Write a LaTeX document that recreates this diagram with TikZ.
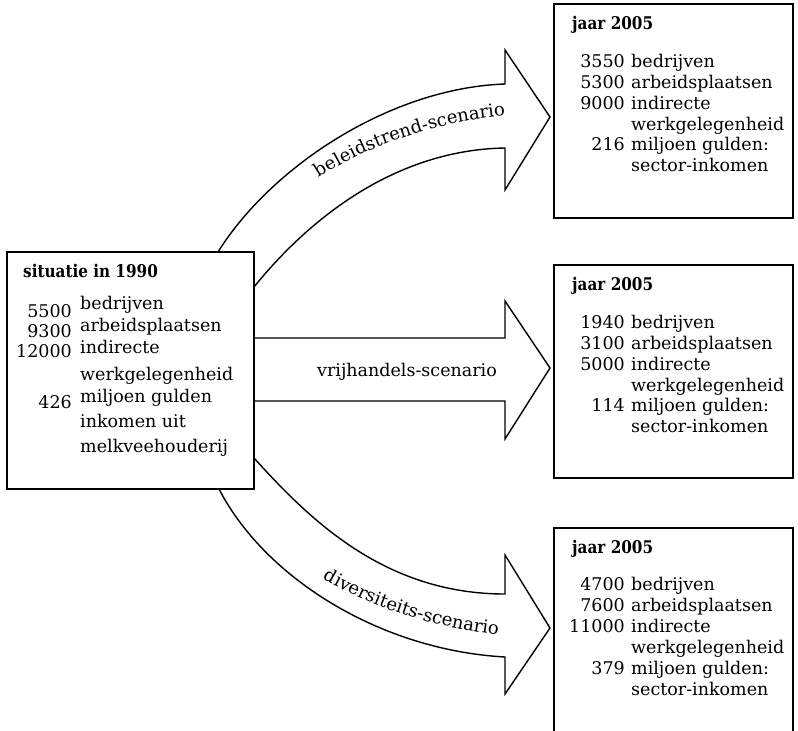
\documentclass[tikz,border=0pt]{standalone}
\usepackage{fontspec}
\setmainfont{DejaVu Serif}
\usepackage{graphicx}
\usetikzlibrary{decorations.text}
\newcommand\hsx[1]{#1}
\newcommand\bsx[1]{\scalebox{0.87}[1]{#1}}
\newcommand\bodyfont{\fontsize{17.5}{20}\selectfont}
\newcommand\curvefont{\fontsize{18}{22}\selectfont}
\tikzset{
  frame/.style={draw, fill=white, line width=1.7pt, inner sep=0pt, rectangle},
  bigarrow/.style={draw, fill=white, line width=1.4pt, line join=miter},
  num/.style={anchor=base east, inner sep=0pt, font=\bodyfont},
  wrd/.style={anchor=base west, inner sep=0pt, font=\bodyfont},
  ttl/.style={anchor=base west, inner sep=0pt, font=\bodyfont\bfseries},
}
\begin{document}
\begin{tikzpicture}[x=1pt,y=1pt]
\useasboundingbox (0,0) rectangle (798,-731);

% ---- big hollow arrows (drawn first, boxes cover their roots)
\draw[bigarrow] (218,-252) .. controls (271,-167) and (390,-88) .. (505,-84)
  -- (505,-50) -- (550,-117) -- (505,-190) -- (505,-148)
  .. controls (390,-150) and (304,-225) .. (254,-287) -- cycle;
\draw[bigarrow] (240,-338) -- (505,-338) -- (505,-301) -- (550,-368)
  -- (505,-439) -- (505,-401) -- (240,-401) -- cycle;
\draw[bigarrow] (254,-458) .. controls (310,-520) and (385,-594) .. (505,-594)
  -- (505,-555) -- (550,-628) -- (505,-694) -- (505,-657)
  .. controls (380,-650) and (265,-578) .. (219,-489) -- cycle;

% ---- arrow labels
\path[decorate, decoration={text along path, text align=center,
  text={|\curvefont|beleidstrend-scenario}}]
  (315,-180) .. controls (360,-150) and (430,-122) .. (510,-115);
\node[anchor=base, inner sep=0pt, font=\bodyfont] (lblmid) at (407,-376) {vrijhandels-scenario};
\path[decorate, decoration={text along path, text align=center,
  text={|\curvefont|diversiteits-scenario}}]
  (315,-574) .. controls (365,-605) and (430,-628) .. (507,-636);

% ---- boxes
\node[frame, minimum width=247pt, minimum height=237pt] (start) at (130.5,-370.5) {};
\node[frame, minimum width=239pt, minimum height=214pt] (top) at (673.5,-111) {};
\node[frame, minimum width=239pt, minimum height=213pt] (mid) at (673.5,-371.5) {};
\node[frame, minimum width=239pt, minimum height=232pt] (bot) at (673.5,-644) {};

% ---- left box text
\node[ttl] (s0) at (23,-277) {\bsx{situatie in 1990}};
\node[num] (s1n) at (72,-317) {5500};
\node[wrd] (s1w) at (80,-309) {bedrijven};
\node[num] (s2n) at (72,-337) {9300};
\node[wrd] (s2w) at (80,-331) {arbeidsplaatsen};
\node[num] (s3n) at (72,-357) {12000};
\node[wrd] (s3w) at (80,-353) {indirecte};
\node[wrd] (s4w) at (80,-380) {werkgelegenheid};
\node[num] (s5n) at (72,-408) {426};
\node[wrd] (s5w) at (80,-402) {miljoen gulden};
\node[wrd] (s6w) at (80,-427) {inkomen uit};
\node[wrd] (s7w) at (80,-452) {melkveehouderij};

% ---- top right box text
\node[ttl] (a0) at (572,-29) {\bsx{jaar 2005}};
\node[num] (a1n) at (625,-67) {3550};
\node[wrd] (a1w) at (631,-67) {bedrijven};
\node[num] (a2n) at (625,-88) {5300};
\node[wrd] (a2w) at (631,-88) {arbeidsplaatsen};
\node[num] (a3n) at (625,-109) {9000};
\node[wrd] (a3w) at (631,-109) {indirecte};
\node[wrd] (a4w) at (631,-130) {werkgelegenheid};
\node[num] (a5n) at (625,-150) {216};
\node[wrd] (a5w) at (631,-150) {miljoen gulden:};
\node[wrd] (a6w) at (631,-171) {sector-inkomen};

% ---- middle right box text
\node[ttl] (b0) at (572,-290) {\bsx{jaar 2005}};
\node[num] (b1n) at (625,-328) {1940};
\node[wrd] (b1w) at (631,-328) {bedrijven};
\node[num] (b2n) at (625,-349) {3100};
\node[wrd] (b2w) at (631,-349) {arbeidsplaatsen};
\node[num] (b3n) at (625,-370) {5000};
\node[wrd] (b3w) at (631,-370) {indirecte};
\node[wrd] (b4w) at (631,-391) {werkgelegenheid};
\node[num] (b5n) at (625,-411) {114};
\node[wrd] (b5w) at (631,-411) {miljoen gulden:};
\node[wrd] (b6w) at (631,-432) {sector-inkomen};

% ---- bottom right box text
\node[ttl] (c0) at (572,-553) {\bsx{jaar 2005}};
\node[num] (c1n) at (625,-590) {4700};
\node[wrd] (c1w) at (631,-590) {bedrijven};
\node[num] (c2n) at (625,-611) {7600};
\node[wrd] (c2w) at (631,-611) {arbeidsplaatsen};
\node[num] (c3n) at (625,-632) {11000};
\node[wrd] (c3w) at (631,-632) {indirecte};
\node[wrd] (c4w) at (631,-653) {werkgelegenheid};
\node[num] (c5n) at (625,-674) {379};
\node[wrd] (c5w) at (631,-674) {miljoen gulden:};
\node[wrd] (c6w) at (631,-695) {sector-inkomen};
\end{tikzpicture}
\end{document}
